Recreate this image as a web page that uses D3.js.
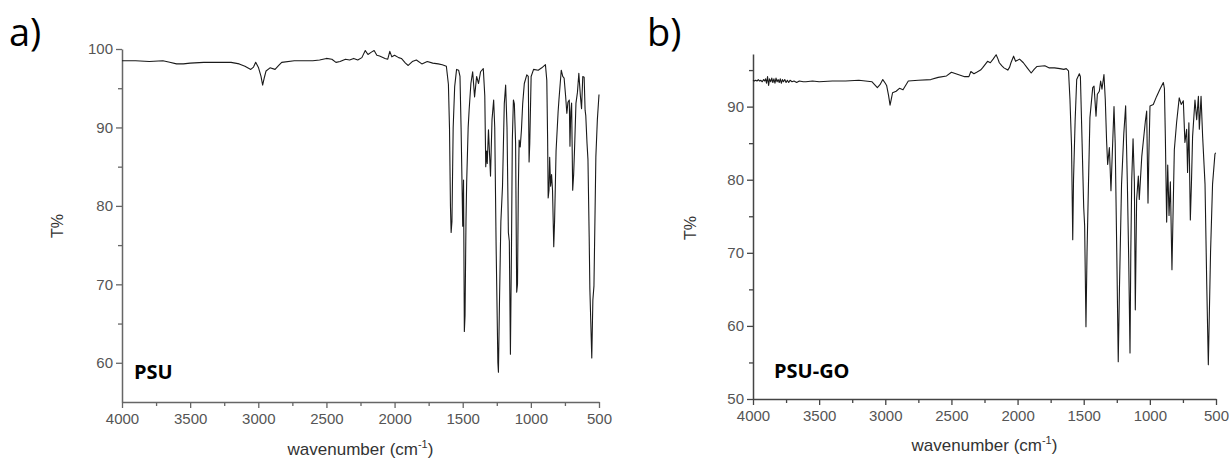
<!DOCTYPE html>
<html>
<head>
<meta charset="utf-8">
<script src="https://cdn.jsdelivr.net/npm/d3@7/dist/d3.min.js"></script>
<style>
  html, body { margin: 0; padding: 0; background: #fff; }
  svg { display: block; }
</style>
</head>
<body>
<svg id="chart" width="1229" height="460"></svg>
<script>
// ---------- DATA ----------
const majorTicksX = [4000, 3500, 3000, 2500, 2000, 1500, 1000, 500];
const minorTicksX = [3750, 3250, 2750, 2250, 1750, 1250, 750];
const majorTicksYA = [60, 70, 80, 90, 100];
const minorTicksYA = [65, 75, 85, 95];
const majorTicksYB = [50, 60, 70, 80, 90];
const minorTicksYB = [55, 65, 75, 85, 95];

// PSU spectrum (wavenumber cm-1, T%)
const psuWave = [4000,3900,3800,3700,3650,3600,3550,3500,3400,3300,3200,3140,3098,3055,3035,3019,2998,2980,2968,2955,2943,2914,2877,2850,2828,2736,2600,2550,2500,2460,2430,2400,2360,2330,2300,2270,2240,2215,2195,2170,2150,2130,2110,2070,2050,2035,2020,2000,1970,1950,1920,1900,1870,1840,1800,1760,1720,1680,1650,1620,1605,1597,1590,1585,1579,1570,1559,1545,1530,1520,1512,1506,1500,1494,1488,1483,1476,1471,1460,1453,1440,1427,1413,1398,1384,1369,1349,1338,1331,1325,1320,1311,1296,1285,1273,1265,1255,1242,1238,1230,1220,1208,1195,1185,1175,1165,1158,1150,1142,1136,1128,1121,1112,1104,1098,1092,1086,1078,1069,1060,1048,1030,1019,1013,1008,998,980,946,920,893,883,877,873,867,862,855,848,841,832,826,815,800,794,777,766,756,745,736,728,718,713,707,701,693,686,678,669,658,648,636,628,619,609,602,597,588,581,572,567,560,553,545,537,530,523,512,500];
const psuT = [98.5,98.5,98.4,98.5,98.3,98.1,98.1,98.2,98.3,98.3,98.3,98.1,97.8,97.4,97.7,98.3,97.6,96.5,95.4,96.4,97.2,97.6,97.4,97.9,98.3,98.5,98.5,98.6,98.8,98.7,98.3,98.4,98.7,98.6,98.8,98.6,98.9,99.8,99.3,99.6,99.8,99.2,99.1,98.8,98.7,99.7,99.0,99.2,98.9,98.8,98.2,97.9,98.4,98.6,98.1,98.4,98.2,98.1,98.0,97.8,95.5,90.0,80.0,76.6,78.0,90.0,95.2,97.4,97.3,96.5,90.0,83.8,77.4,83.3,64.0,66.0,78.0,83.0,90.0,92.2,95.6,97.1,93.9,96.5,95.6,97.1,97.5,94.0,85.0,87.0,85.4,89.7,83.8,91.0,93.5,90.0,75.0,60.0,58.8,68.0,78.0,82.5,93.0,95.4,90.0,76.6,75.5,61.1,75.0,88.4,93.5,93.0,88.0,69.0,70.0,82.0,88.4,87.5,89.7,93.0,95.6,96.7,96.5,85.6,88.0,96.5,97.4,97.3,97.6,98.0,96.0,88.5,81.0,82.0,86.2,82.5,84.0,82.0,74.8,78.0,87.0,92.0,93.5,97.3,96.5,96.3,94.0,91.8,93.2,93.5,87.6,92.0,93.1,82.0,84.0,88.0,93.1,94.5,96.9,93.9,92.4,96.5,96.4,92.2,91.5,88.0,85.9,76.0,69.4,65.0,60.6,68.0,69.8,78.0,86.3,91.0,94.2];

// PSU-GO spectrum (wavenumber cm-1, T%)
const psugoWave = [4000,3990,3980,3970,3960,3950,3940,3930,3920,3912,3905,3898,3890,3882,3875,3866,3858,3850,3842,3834,3826,3818,3810,3802,3794,3786,3778,3770,3760,3750,3740,3730,3720,3705,3690,3670,3650,3620,3600,3550,3500,3400,3300,3200,3150,3100,3060,3040,3019,3000,2990,2975,2964,2955,2945,2918,2893,2866,2826,2750,2656,2600,2537,2500,2450,2400,2368,2353,2330,2309,2280,2265,2227,2206,2185,2162,2150,2138,2120,2103,2074,2060,2050,2030,2015,1985,1956,1927,1897,1875,1853,1794,1760,1721,1680,1650,1632,1615,1604,1592,1583,1577,1565,1553,1533,1525,1512,1500,1493,1483,1475,1465,1453,1432,1422,1407,1397,1382,1372,1362,1347,1337,1327,1319,1306,1294,1286,1271,1262,1250,1239,1230,1214,1197,1183,1170,1160,1150,1144,1137,1127,1117,1110,1100,1087,1080,1061,1034,1024,1014,1008,999,974,949,923,898,890,883,873,865,855,845,833,825,815,798,778,763,747,735,722,715,705,694,685,677,659,646,633,626,613,601,583,570,558,550,541,526,508,503];
const psugoT = [93.6,93.5,93.6,93.5,93.7,93.5,93.6,93.4,93.7,93.5,93.8,93.2,94.1,92.9,93.8,93.4,93.9,93.3,93.8,93.2,93.9,93.4,93.7,93.3,93.8,93.2,93.7,93.4,93.7,93.3,93.6,93.3,93.6,93.4,93.5,93.3,93.5,93.4,93.4,93.5,93.4,93.5,93.5,93.6,93.5,93.4,92.6,93.0,93.7,93.2,92.9,91.5,90.2,91.0,91.9,92.1,92.5,92.3,93.5,93.6,93.7,94.0,94.2,94.7,94.4,94.1,94.1,94.8,94.5,94.7,95.0,95.3,96.2,96.0,96.5,97.1,96.6,96.0,95.6,95.3,95.0,95.4,96.0,96.9,96.2,96.5,96.0,95.3,94.6,95.1,95.5,95.6,95.3,95.3,95.2,95.1,95.2,94.9,91.0,84.6,71.8,80.0,88.0,93.7,94.5,94.1,84.9,76.2,73.7,59.9,70.0,78.6,88.5,92.6,92.8,88.7,91.7,92.1,93.5,92.4,94.4,91.0,85.3,82.1,84.4,78.5,82.6,90.0,85.0,70.0,55.1,65.0,79.4,86.3,90.1,79.4,69.3,56.3,70.0,80.0,85.6,79.7,62.2,77.3,80.5,77.3,83.2,88.0,89.4,76.8,83.0,90.1,90.3,91.4,92.4,93.3,92.5,86.0,74.2,82.0,75.1,79.7,67.7,75.0,84.1,87.8,91.2,90.3,90.8,85.1,86.9,81.0,87.8,74.5,80.0,85.9,90.9,88.2,91.4,86.9,91.4,85.9,79.4,65.7,54.7,62.0,70.2,79.4,83.5,83.7];

// ---------- DRAW ----------
const svg = d3.select("#chart");
svg.append("rect").attr("width", 1229).attr("height", 460).attr("fill", "#fff");

const panels = [
  { letter: "a)", letterX: 9, name: "PSU", nameX: 134, nameY: 379,
    wave: psuWave, T: psuT, axisCol: "#666",
    x0: 122, x1: 599, yTop: 49, yBot: 402, yDomain: [55, 100],
    majY: majorTicksYA, minY: minorTicksYA,
    ytitleX: 59, ytitleY: 226, xtitleY: 455 },
  { letter: "b)", letterX: 647, name: "PSU-GO", nameX: 774, nameY: 378,
    wave: psugoWave, T: psugoT, axisCol: "#444",
    x0: 753, x1: 1216, yTop: 54, yBot: 399, yDomain: [50, 97.2],
    majY: majorTicksYB, minY: minorTicksYB,
    ytitleX: 692, ytitleY: 228, xtitleY: 451 }
];

panels.forEach(p => {
  const g = svg.append("g");
  const x = d3.scaleLinear().domain([4000, 500]).range([p.x0, p.x1]);
  const y = d3.scaleLinear().domain(p.yDomain).range([p.yBot, p.yTop]);

  // minor ticks
  g.append("g").attr("transform", `translate(0,${p.yBot})`)
    .call(d3.axisBottom(x).tickValues(minorTicksX).tickSize(4).tickFormat(""))
    .call(a => a.select(".domain").remove())
    .call(a => a.selectAll("line").attr("stroke", p.axisCol).attr("stroke-width", 1.3));
  g.append("g").attr("transform", `translate(${p.x0},0)`)
    .call(d3.axisLeft(y).tickValues(p.minY).tickSize(4).tickFormat(""))
    .call(a => a.select(".domain").remove())
    .call(a => a.selectAll("line").attr("stroke", p.axisCol).attr("stroke-width", 1.3));

  // major axes
  const xa = g.append("g").attr("transform", `translate(0,${p.yBot})`)
    .call(d3.axisBottom(x).tickValues(majorTicksX).tickSize(6).tickSizeOuter(0).tickPadding(5).tickFormat(d3.format("d")));
  const ya = g.append("g").attr("transform", `translate(${p.x0},0)`)
    .call(d3.axisLeft(y).tickValues(p.majY).tickSize(6).tickSizeOuter(0).tickPadding(3).tickFormat(d3.format("d")));
  [xa, ya].forEach(a => {
    a.select(".domain").attr("stroke", p.axisCol).attr("stroke-width", 1.5);
    a.selectAll(".tick line").attr("stroke", p.axisCol).attr("stroke-width", 1.3);
    a.selectAll(".tick text").attr("fill", "#555").style("font-size", "15px")
      .style("font-family", "'Liberation Sans', Arial, sans-serif");
  });

  // spectrum line
  const line = d3.line().x((d, i) => x(p.wave[i])).y((d, i) => y(p.T[i]));
  g.append("path").datum(p.T).attr("d", line)
    .attr("fill", "none").attr("stroke", "#1a1a1a").attr("stroke-width", 1.1)
    .attr("stroke-linejoin", "round");

  // sample name
  g.append("text").attr("x", p.nameX).attr("y", p.nameY)
    .attr("font-family", "'Open Sans', 'Noto Sans', sans-serif")
    .attr("font-weight", "bold").attr("font-size", 20).attr("fill", "#000")
    .text(p.name);

  // panel letter
  svg.append("text").attr("x", p.letterX).attr("y", 46)
    .attr("font-family", "'Open Sans', 'Noto Sans', sans-serif")
    .attr("font-size", 38).attr("fill", "#000").text(p.letter);

  // y title
  g.append("text").attr("transform", `translate(${p.ytitleX},${p.ytitleY}) rotate(-90)`)
    .attr("text-anchor", "middle").attr("dominant-baseline", "middle")
    .attr("font-family", "'Liberation Sans', Arial, sans-serif")
    .attr("font-size", 16).attr("fill", "#333").text("T%");

  // x title
  const xt = g.append("text").attr("x", (p.x0 + p.x1) / 2).attr("y", p.xtitleY)
    .attr("text-anchor", "middle")
    .attr("font-family", "'Liberation Sans', Arial, sans-serif")
    .attr("font-size", 17).attr("fill", "#333");
  xt.append("tspan").text("wavenumber (cm");
  xt.append("tspan").attr("dy", -7).attr("font-size", 11).text("-1");
  xt.append("tspan").attr("dy", 7).text(")");
});
</script>
</body>
</html>
